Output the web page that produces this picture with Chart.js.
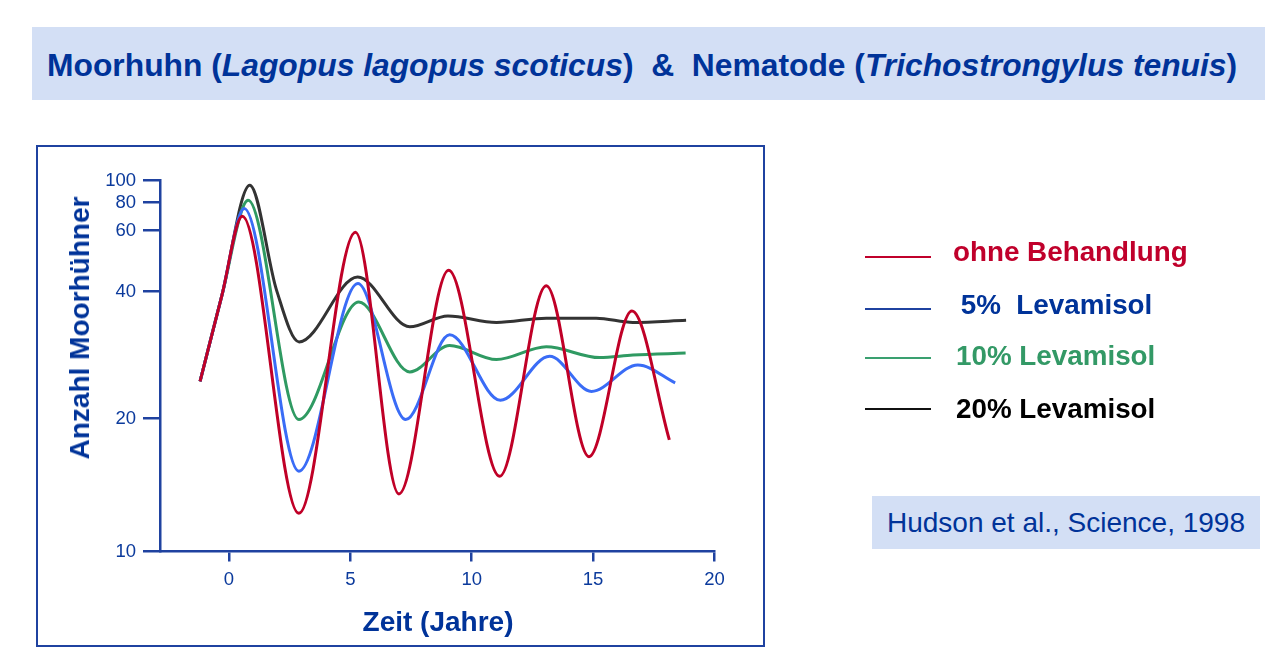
<!DOCTYPE html>
<html>
<head>
<meta charset="utf-8">
<script src="https://cdn.jsdelivr.net/npm/chart.js@4/dist/chart.umd.min.js"></script>
<style>
  html, body { margin: 0; padding: 0; background: #ffffff; }
  body { width: 1277px; height: 658px; position: relative; overflow: hidden; font-family: "Liberation Sans", Arial, sans-serif; }
  #banner { position: absolute; left: 32px; top: 27px; width: 1233px; height: 73px; background: #d3dff5; }
  #title { position: absolute; left: 47px; top: 43px; font-size: 31.8px; font-weight: bold; color: #003399; white-space: pre; line-height: 44px; }
  #box { position: absolute; left: 36px; top: 145px; width: 725px; height: 498px; border: 2px solid #1f42a0; }
  #chartwrap { position: absolute; left: 0; top: 0; width: 1277px; height: 658px; }
  .ytitle { position: absolute; left: 80px; top: 328px; transform: translate(-50%, -50%) rotate(-90deg); font-size: 28px; font-weight: bold; color: #003399; white-space: pre; }
  .xtitle { position: absolute; left: 438px; top: 622px; transform: translate(-50%, -50%); font-size: 28px; font-weight: bold; color: #003399; white-space: pre; }
  .lline { position: absolute; left: 865px; width: 66px; height: 2px; }
  .ltext { position: absolute; font-size: 27.8px; font-weight: bold; white-space: pre; line-height: 32px; }
  #ref { position: absolute; left: 872px; top: 496px; width: 388px; height: 53px; background: #d3dff5; }
  #reftext { position: absolute; left: 887px; top: 506px; font-size: 28px; color: #003399; line-height: 34px; white-space: pre; }
</style>
</head>
<body>
<div id="banner"></div>
<div id="title">Moorhuhn (<i>Lagopus lagopus scoticus</i>)  &amp;  Nematode (<i>Trichostrongylus tenuis</i>)</div>
<div id="box"></div>
<div id="chartwrap"><canvas id="c" width="1277" height="658"></canvas></div>
<div class="ytitle">Anzahl Moorhühner</div>
<div class="xtitle">Zeit (Jahre)</div>

<div class="lline" style="top:256px;background:#c0002b;"></div>
<div class="ltext" style="left:953px;top:236px;color:#c0002b;">ohne Behandlung</div>
<div class="lline" style="top:308px;background:#1f42a0;"></div>
<div class="ltext" style="left:953px;top:289px;color:#003399;"> 5%  Levamisol</div>
<div class="lline" style="top:357px;background:#3aa070;"></div>
<div class="ltext" style="left:956px;top:340px;color:#339966;">10% Levamisol</div>
<div class="lline" style="top:408px;background:#111111;"></div>
<div class="ltext" style="left:956px;top:393px;color:#000000;">20% Levamisol</div>

<div id="ref"></div>
<div id="reftext">Hudson et al., Science, 1998</div>

<script>
// ---- data (years, grouse numbers) ----
const YEARS_OHNE = [-1.19, -0.29, 0.55, 2.88, 5.21, 7.0, 9.05, 11.15, 13.07, 14.83, 16.6, 18.14];
const OHNE       = [24.5, 39.2, 69.6, 12.2, 59.4, 13.5, 46.1, 14.8, 41.6, 16.4, 36.0, 17.9];

const YEARS_L5 = [-1.19, -0.29, 0.63, 2.88, 5.31, 7.28, 9.09, 11.18, 13.21, 14.93, 16.84, 18.38];
const L5       = [24.5, 39.2, 75.4, 15.2, 42.2, 19.9, 31.6, 22.1, 28.1, 23.2, 26.8, 24.3];

const YEARS_L10 = [-1.19, -0.29, 0.79, 2.88, 5.35, 7.45, 9.09, 11.02, 13.07, 15.27, 16.64, 18.81];
const L10       = [24.5, 39.2, 82.1, 19.9, 37.8, 25.8, 29.8, 27.6, 29.6, 27.9, 28.3, 28.6];

const YEARS_L20 = [-1.19, -0.29, 0.86, 1.96, 2.89, 5.30, 7.45, 9.02, 11.02, 13.07, 15.13, 16.64, 18.83];
const L20       = [24.5, 39.2, 95.5, 40.4, 30.4, 44.1, 33.0, 35.0, 33.8, 34.6, 34.6, 33.8, 34.2];

const X_TICKS = [0, 5, 10, 15, 20];
const Y_TICKS = [10, 20, 40, 60, 80, 100];
// axis spacing of the original (non-uniform) y axis: scale unit of each tick label
const Y_TICK_UNITS = [0, 133, 260, 321, 349, 371];

function toUnit(v) {
  for (let i = 0; i < Y_TICKS.length - 1; i++) {
    const a = Y_TICKS[i], b = Y_TICKS[i + 1];
    if (v <= b || i === Y_TICKS.length - 2) {
      const f = Math.log(v / a) / Math.log(b / a);
      return Y_TICK_UNITS[i] + f * (Y_TICK_UNITS[i + 1] - Y_TICK_UNITS[i]);
    }
  }
}
function series(xs, ys) { return xs.map((x, i) => ({ x: x, y: toUnit(ys[i]) })); }

const AXIS = '#1f42a0';
const TICKTXT = '#0b3a9c';

new Chart(document.getElementById('c'), {
  type: 'line',
  data: {
    datasets: [
      { label: 'ohne Behandlung', data: series(YEARS_OHNE, OHNE), borderColor: '#c00027' },
      { label: '5% Levamisol', data: series(YEARS_L5, L5), borderColor: '#3a6cf6' },
      { label: '10% Levamisol', data: series(YEARS_L10, L10), borderColor: '#2f9a62' },
      { label: '20% Levamisol', data: series(YEARS_L20, L20), borderColor: '#333333' }
    ].map(d => Object.assign(d, { borderWidth: 3, pointRadius: 0, fill: false, cubicInterpolationMode: 'monotone' }))
  },
  options: {
    responsive: false,
    animation: false,
    events: [],
    layout: { padding: { left: 100, right: 562.5, top: 180.7, bottom: 66.5 } },
    plugins: { legend: { display: false }, tooltip: { enabled: false } },
    scales: {
      x: {
        type: 'linear',
        min: -2.84, max: 20,
        afterBuildTicks: s => { s.ticks = X_TICKS.map(v => ({ value: v })); },
        afterFit: s => { s.height = 40; },
        grid: { drawOnChartArea: false, drawTicks: true, tickLength: 10, color: AXIS, lineWidth: 2.5 },
        border: { color: AXIS, width: 2.5 },
        ticks: { color: TICKTXT, font: { family: 'Liberation Sans', size: 18.5 }, padding: 7, maxRotation: 0 }
      },
      y: {
        type: 'linear',
        min: 0, max: Y_TICK_UNITS[Y_TICK_UNITS.length - 1],
        afterBuildTicks: s => { s.ticks = Y_TICKS.map(v => ({ value: toUnit(v) })); },
        afterFit: s => { s.width = 60; },
        grid: { drawOnChartArea: false, drawTicks: true, tickLength: 17, color: AXIS, lineWidth: 2.5 },
        border: { color: AXIS, width: 2.5 },
        ticks: {
          color: TICKTXT, font: { family: 'Liberation Sans', size: 18.5 }, padding: 7,
          callback: (val) => {
            let best = 0;
            Y_TICK_UNITS.forEach((u, i) => { if (Math.abs(u - val) < Math.abs(Y_TICK_UNITS[best] - val)) best = i; });
            return String(Y_TICKS[best]);
          }
        }
      }
    }
  }
});
</script>
</body>
</html>
